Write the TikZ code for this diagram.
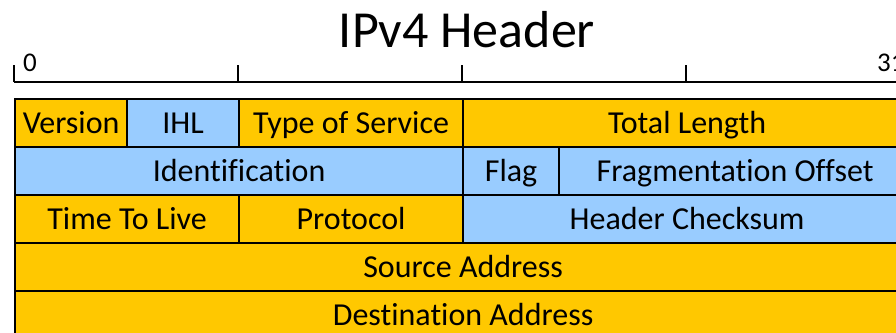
\documentclass[tikz,border=0pt]{standalone}
\usepackage{fontspec}
\setmainfont{Carlito}[Ligatures={NoCommon}]
\definecolor{hdrorange}{RGB}{255,200,0}
\definecolor{hdrblue}{RGB}{153,204,255}
\tikzset{
  cellbox/.style={draw=black, line width=2.2pt, inner sep=0pt, anchor=north west,
    minimum height=48pt, text height=28pt, text depth=7pt,
    font=\fontsize{32}{38}\selectfont},
  orangecell/.style={cellbox, fill=hdrorange},
  bluecell/.style={cellbox, fill=hdrblue},
  rulerline/.style={line width=2pt, black},
  rulerlabel/.style={anchor=base west, inner sep=0pt, font=\fontsize{27}{32}\selectfont},
}
\newcommand{\hdrcell}[6]{% name, style, x1, x2, ytop, text
  \node[#2, minimum width=#4pt-#3pt] (#1) at (#3,#5) {#6};}
\begin{document}
\begin{tikzpicture}[x=1pt,y=-1pt]
\useasboundingbox (0,0) rectangle (896,332);
\clip (0,0) rectangle (896,332);
\fill[white] (0,0) rectangle (896,332);
% title
\node[anchor=base, inner sep=0pt, font=\fontsize{52}{60}\selectfont] (title) at (467,47) {IPv4 Header};
% ruler
\coordinate (r0) at (14,82);
\coordinate (r8) at (238,82);
\coordinate (r16) at (462,82);
\coordinate (r24) at (686,82);
\coordinate (r32) at (910,82);
\draw[rulerline] (r0) -- (r32);
\foreach \c in {r0,r8,r16,r24,r32}
  \draw[rulerline] (\c) -- ++(0,-17);
\node[rulerlabel] (lab0) at (23,71) {0};
\node[rulerlabel] (lab31) at (877,71) {31};
% row 1
\hdrcell{ver}{orangecell}{14}{126}{98}{Version}
\hdrcell{ihl}{bluecell}{126}{238}{98}{IHL}
\hdrcell{tos}{orangecell}{238}{462}{98}{Type of Service}
\hdrcell{tlen}{orangecell}{462}{910}{98}{Total Length}
% row 2
\hdrcell{ident}{bluecell}{14}{462}{146}{Identification}
\hdrcell{flag}{bluecell}{462}{558}{146}{Flag}
\hdrcell{frag}{bluecell}{558}{910}{146}{Fragmentation Offset}
% row 3
\hdrcell{ttl}{orangecell}{14}{238}{194}{Time To Live}
\hdrcell{proto}{orangecell}{238}{462}{194}{Protocol}
\hdrcell{csum}{bluecell}{462}{910}{194}{Header Checksum}
% row 4
\hdrcell{src}{orangecell}{14}{910}{242}{Source Address}
% row 5
\hdrcell{dst}{orangecell}{14}{910}{290}{Destination Address}
\end{tikzpicture}
\end{document}
